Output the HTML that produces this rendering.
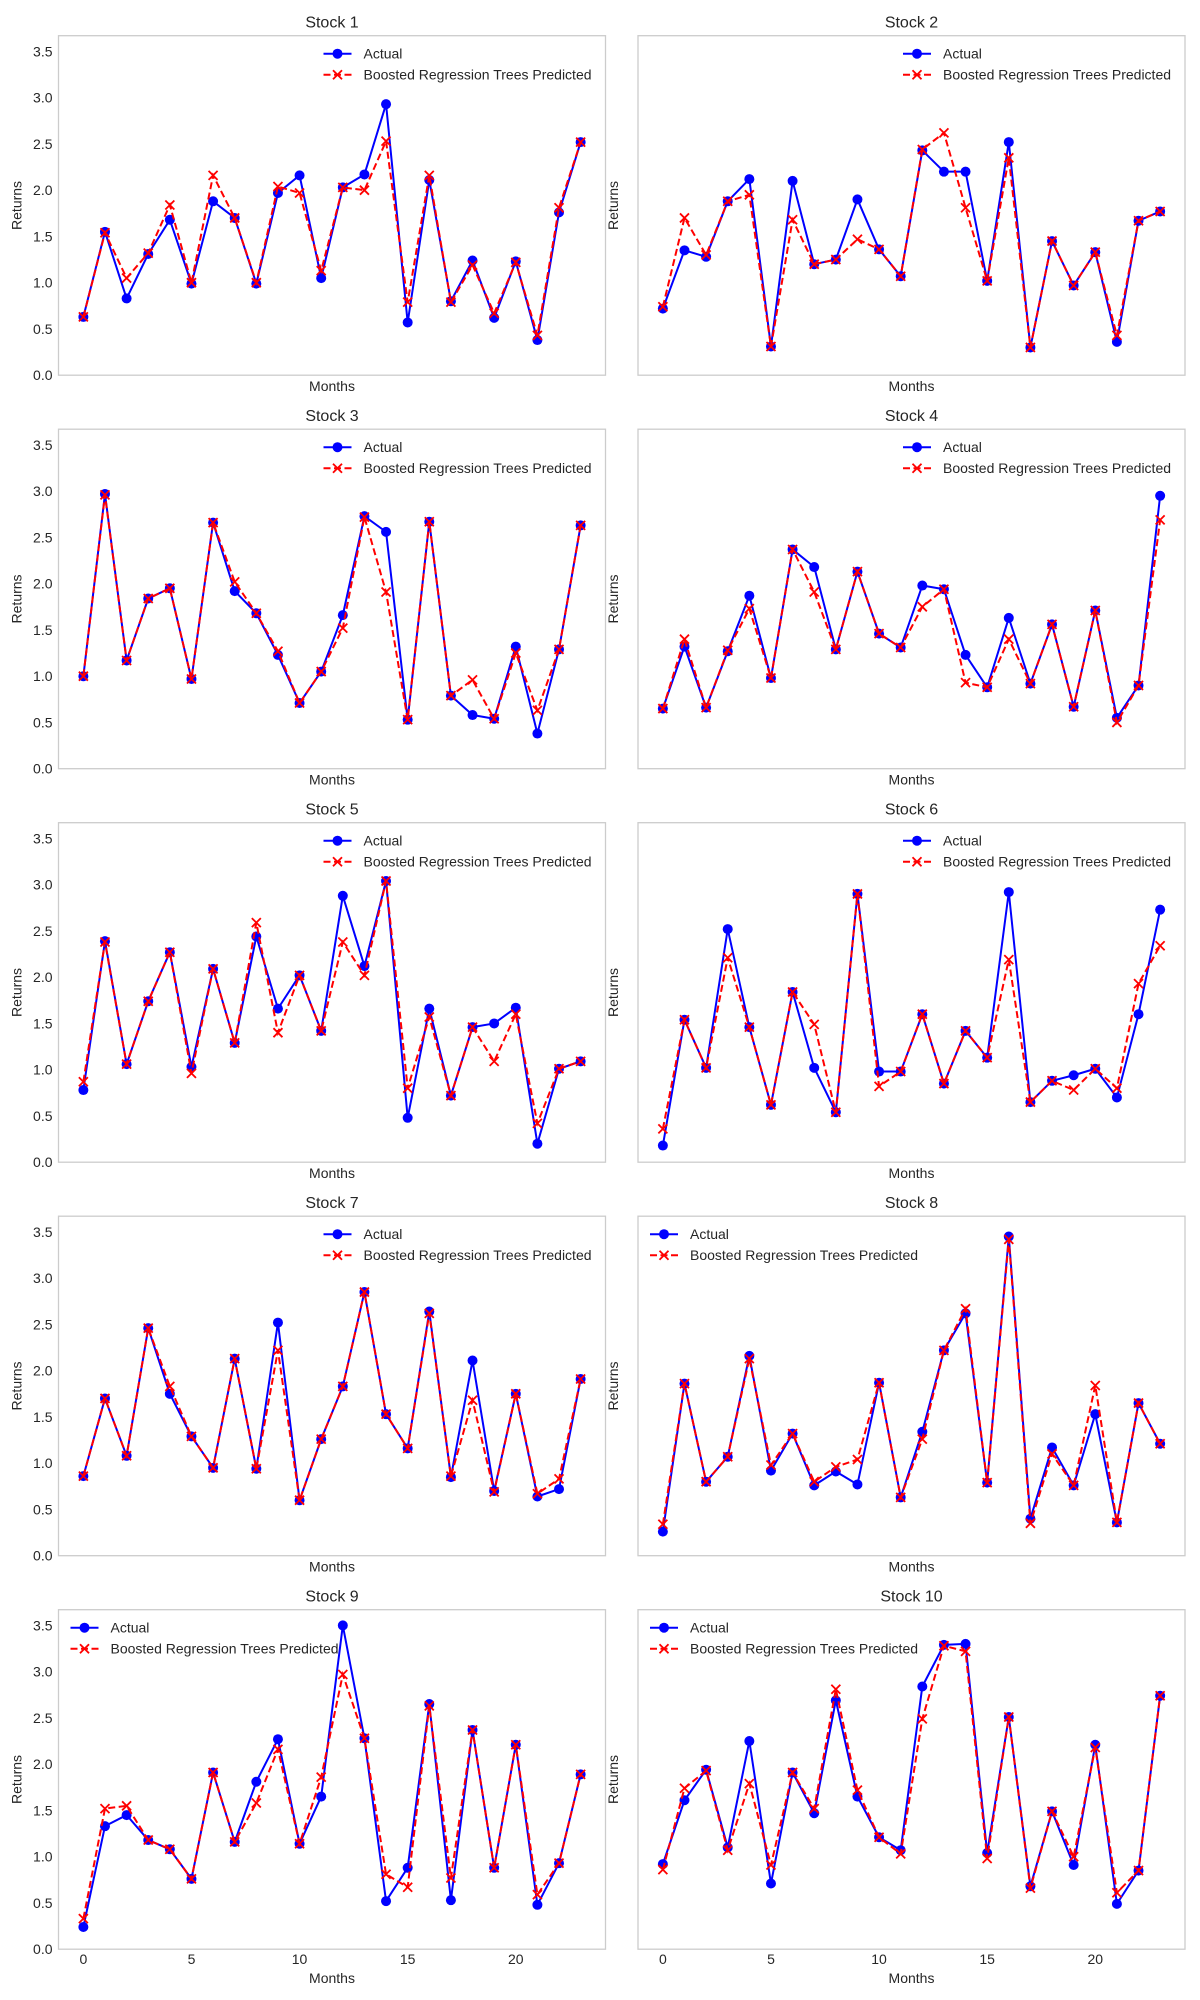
<!DOCTYPE html>
<html><head><meta charset="utf-8">
<style>
html,body{margin:0;padding:0;background:#fff;}
svg{display:block;}
text{font-family:"Liberation Sans",sans-serif;fill:#262626;}
</style></head>
<body>
<svg id="fig" width="1200" height="2000" viewBox="0 0 1200 2000" xmlns="http://www.w3.org/2000/svg"></svg>
<script>
const months = [0,1,2,3,4,5,6,7,8,9,10,11,12,13,14,15,16,17,18,19,20,21,22,23];
const yTicks = [0,0.5,1,1.5,2,2.5,3,3.5];
const xTicks = [0,5,10,15,20];
const stockNames = ["Stock 1","Stock 2","Stock 3","Stock 4","Stock 5","Stock 6","Stock 7","Stock 8","Stock 9","Stock 10"];
const legendLeft = [false,false,false,false,false,false,false,true,true,true];

const actual1 = [0.63,1.55,0.83,1.31,1.68,0.99,1.88,1.70,0.99,1.97,2.16,1.05,2.03,2.17,2.93,0.57,2.11,0.80,1.24,0.62,1.23,0.38,1.76,2.52];
const pred1   = [0.63,1.54,1.05,1.32,1.84,1.00,2.16,1.70,1.00,2.04,1.97,1.13,2.03,2.00,2.53,0.79,2.16,0.79,1.19,0.67,1.22,0.43,1.81,2.52];
const actual2 = [0.72,1.35,1.28,1.88,2.12,0.31,2.10,1.20,1.25,1.90,1.36,1.07,2.43,2.20,2.20,1.02,2.52,0.30,1.45,0.97,1.33,0.36,1.67,1.77];
const pred2   = [0.74,1.70,1.30,1.88,1.95,0.31,1.68,1.20,1.25,1.47,1.36,1.07,2.44,2.62,1.81,1.02,2.35,0.30,1.45,0.97,1.33,0.43,1.67,1.77];
const actual3 = [1.00,2.97,1.17,1.84,1.95,0.97,2.66,1.92,1.68,1.23,0.71,1.05,1.66,2.73,2.56,0.53,2.67,0.79,0.58,0.54,1.32,0.38,1.29,2.63];
const pred3   = [1.00,2.96,1.17,1.84,1.95,0.97,2.66,2.02,1.68,1.27,0.71,1.05,1.52,2.72,1.91,0.53,2.67,0.79,0.96,0.54,1.25,0.63,1.29,2.63];
const actual4 = [0.65,1.32,0.66,1.27,1.87,0.98,2.37,2.18,1.29,2.13,1.46,1.31,1.98,1.94,1.23,0.88,1.63,0.92,1.56,0.67,1.71,0.55,0.90,2.95];
const pred4   = [0.65,1.40,0.66,1.28,1.73,0.98,2.37,1.91,1.29,2.13,1.46,1.31,1.75,1.94,0.93,0.88,1.40,0.92,1.56,0.67,1.71,0.50,0.90,2.69];
const actual5 = [0.78,2.39,1.06,1.74,2.27,1.03,2.09,1.29,2.44,1.66,2.02,1.42,2.88,2.12,3.04,0.48,1.66,0.72,1.46,1.50,1.67,0.20,1.01,1.09];
const pred5   = [0.87,2.38,1.06,1.74,2.27,0.96,2.09,1.29,2.59,1.40,2.02,1.42,2.38,2.02,3.04,0.80,1.57,0.72,1.46,1.09,1.60,0.42,1.01,1.09];
const actual6 = [0.18,1.54,1.02,2.52,1.46,0.62,1.84,1.02,0.54,2.90,0.98,0.98,1.60,0.85,1.42,1.13,2.92,0.65,0.88,0.94,1.01,0.70,1.60,2.73];
const pred6   = [0.36,1.54,1.02,2.21,1.46,0.62,1.84,1.49,0.54,2.90,0.82,0.98,1.60,0.85,1.42,1.13,2.19,0.65,0.88,0.78,1.01,0.80,1.93,2.34];
const actual7 = [0.86,1.70,1.08,2.46,1.75,1.29,0.95,2.13,0.94,2.52,0.60,1.26,1.83,2.85,1.53,1.16,2.64,0.85,2.11,0.70,1.75,0.64,0.72,1.91];
const pred7   = [0.86,1.70,1.08,2.46,1.83,1.29,0.95,2.13,0.94,2.22,0.60,1.26,1.83,2.85,1.53,1.16,2.62,0.86,1.68,0.69,1.75,0.67,0.83,1.91];
const actual8 = [0.26,1.86,0.80,1.07,2.16,0.92,1.32,0.76,0.91,0.77,1.87,0.63,1.34,2.22,2.62,0.79,3.45,0.40,1.17,0.76,1.53,0.36,1.65,1.21];
const pred8   = [0.34,1.86,0.80,1.07,2.13,0.98,1.32,0.80,0.96,1.04,1.87,0.63,1.26,2.22,2.67,0.79,3.42,0.35,1.10,0.76,1.84,0.36,1.65,1.21];
const actual9 = [0.24,1.33,1.45,1.18,1.08,0.76,1.91,1.16,1.81,2.27,1.14,1.65,3.50,2.28,0.52,0.88,2.65,0.53,2.37,0.88,2.21,0.48,0.93,1.89];
const pred9   = [0.33,1.52,1.55,1.18,1.08,0.76,1.91,1.16,1.58,2.16,1.14,1.86,2.97,2.28,0.81,0.67,2.63,0.77,2.37,0.88,2.21,0.59,0.93,1.89];
const actual10 = [0.92,1.61,1.94,1.10,2.25,0.71,1.91,1.47,2.69,1.65,1.21,1.07,2.84,3.29,3.30,1.04,2.51,0.68,1.49,0.91,2.21,0.49,0.85,2.74];
const pred10   = [0.86,1.74,1.93,1.07,1.79,0.91,1.91,1.52,2.81,1.72,1.21,1.03,2.49,3.28,3.22,0.98,2.51,0.66,1.49,1.00,2.18,0.61,0.85,2.74];

const actuals = [actual1,actual2,actual3,actual4,actual5,actual6,actual7,actual8,actual9,actual10];
const preds = [pred1,pred2,pred3,pred4,pred5,pred6,pred7,pred8,pred9,pred10];

const NS = "http://www.w3.org/2000/svg";
const fig = document.getElementById("fig");
function mk(tag, attrs, parent){
  const e = document.createElementNS(NS, tag);
  for (const k in attrs) e.setAttribute(k, attrs[k]);
  (parent||fig).appendChild(e);
  return e;
}
const colLeft = [58.5, 638], W = 547, H = 339.5, top0 = 35.7, rowStep = 393.5;
const XMIN = -1.15, XMAX = 24.15, YMIN = 0, YMAX = 3.67;

for (let i = 0; i < 10; i++) {
  const r = Math.floor(i/2), c = i%2;
  const L = colLeft[c], T = top0 + rowStep*r, B = T + H;
  const xs = v => L + (v - XMIN)/(XMAX - XMIN)*W;
  const ys = v => B - (v - YMIN)/(YMAX - YMIN)*H;
  const g = mk("g", {});
  
  

  const frame = mk("rect", {x:L, y:T, width:W, height:H, fill:"#fff", stroke:"#cccccc", "stroke-width":1.3}, g);
  
  

  const title = mk("text", {x:L+W/2, y:T-8, "text-anchor":"middle", "font-size":16}, g);
  title.textContent = stockNames[i];
  
  

  const xl = mk("text", {x:L+W/2, y:(r===4? B+34 : B+16), "text-anchor":"middle", "font-size":14}, g);
  xl.textContent = "Months";
  
  

  const ylx = L - (c===0 ? 37 : 20), yly = T + H/2;
  const yl = mk("text", {x:ylx, y:yly, "text-anchor":"middle", "font-size":14, transform:"rotate(-90 "+ylx+" "+yly+")"}, g);
  yl.textContent = "Returns";
  
  

  if (c === 0) {
    yTicks.forEach(t => {
      const tl = mk("text", {x:L-6, y:ys(t)+5, "text-anchor":"end", "font-size":14}, g);
      tl.textContent = t.toFixed(1);
      
      
    });
  }
  if (r === 4) {
    xTicks.forEach(t => {
      const tl = mk("text", {x:xs(t), y:B+15, "text-anchor":"middle", "font-size":14}, g);
      tl.textContent = String(t);
      
      
    });
  }

  const a = actuals[i], p = preds[i];
  const aLine = mk("polyline", {points: months.map((m,k)=>xs(m)+","+ys(a[k])).join(" "), fill:"none", stroke:"#0000ff", "stroke-width":2, "stroke-linejoin":"round"}, g);
  
  
  months.forEach((m,k) => {
    const d = mk("circle", {cx:xs(m), cy:ys(a[k]), r:5, fill:"#0000ff"}, g);
    
    
  });
  const pLine = mk("polyline", {points: months.map((m,k)=>xs(m)+","+ys(p[k])).join(" "), fill:"none", stroke:"#ff0000", "stroke-width":2, "stroke-dasharray":"7,3.5"}, g);
  
  
  months.forEach((m,k) => {
    const x = xs(m), y = ys(p[k]), s = 4.5;
    const mkr = mk("path", {d:"M"+(x-s)+","+(y-s)+"L"+(x+s)+","+(y+s)+"M"+(x-s)+","+(y+s)+"L"+(x+s)+","+(y-s), stroke:"#ff0000", "stroke-width":1.8, fill:"none"}, g);
    
    
  });

  const lx = legendLeft[i] ? L + 12 : L + 265;
  const ly1 = T + 18, ly2 = T + 39;
  const leg = mk("g", {}, g);
  
  
  const e1 = mk("g", {}, leg);
  
  
  mk("line", {x1:lx, y1:ly1, x2:lx+28, y2:ly1, stroke:"#0000ff", "stroke-width":2}, e1);
  mk("circle", {cx:lx+14, cy:ly1, r:5, fill:"#0000ff"}, e1);
  const t1 = mk("text", {x:lx+40, y:ly1+5, "font-size":14}, e1);
  t1.textContent = "Actual";
  const e2 = mk("g", {}, leg);
  
  
  mk("line", {x1:lx, y1:ly2, x2:lx+28, y2:ly2, stroke:"#ff0000", "stroke-width":2, "stroke-dasharray":"7,3.5"}, e2);
  mk("path", {d:"M"+(lx+9.5)+","+(ly2-4.5)+"l9,9M"+(lx+9.5)+","+(ly2+4.5)+"l9,-9", stroke:"#ff0000", "stroke-width":1.8}, e2);
  const t2 = mk("text", {x:lx+40, y:ly2+5, "font-size":14}, e2);
  t2.textContent = "Boosted Regression Trees Predicted";
}
</script>
</body></html>
